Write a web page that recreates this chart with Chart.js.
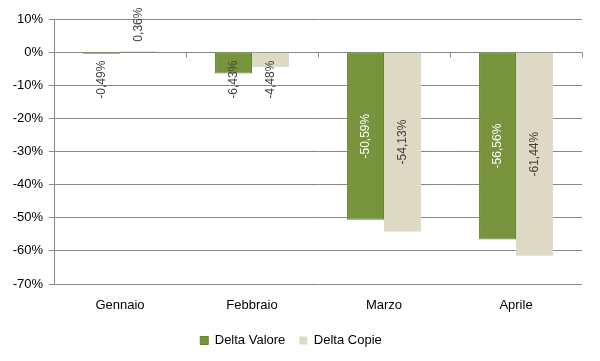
<!DOCTYPE html>
<html>
<head>
<meta charset="utf-8">
<script src="https://cdn.jsdelivr.net/npm/chart.js@4/dist/chart.umd.min.js"></script>
<style>
  html, body { margin: 0; padding: 0; background: #ffffff; }
  #wrap { width: 600px; height: 361px; position: relative; }
</style>
</head>
<body>
<div id="wrap"><canvas id="c" width="600" height="361"></canvas></div>
<script>
const categories = ["Gennaio", "Febbraio", "Marzo", "Aprile"];
const deltaValore = [-0.49, -6.43, -50.59, -56.56];
const deltaCopie = [0.36, -4.48, -54.13, -61.44];
const seriesNames = ["Delta Valore", "Delta Copie"];
const yMin = -70, yMax = 10, yStep = 10;

const fmt = v => v.toFixed(2).replace('.', ',') + '%';
const FONT = '"Liberation Sans", "DejaVu Sans", sans-serif';

const labelPlugin = {
  id: 'barLabels',
  afterDatasetsDraw(chart) {
    const ctx = chart.ctx;
    ctx.save();
    ctx.font = '12px ' + FONT;
    ctx.textBaseline = 'middle';
    chart.data.datasets.forEach((ds, di) => {
      const meta = chart.getDatasetMeta(di);
      meta.data.forEach((el, i) => {
        const v = ds.data[i];
        const txt = fmt(v);
        const w = ctx.measureText(txt).width;
        const len = Math.abs(el.base - el.y);
        ctx.save();
        ctx.translate(el.x, 0);
        if (len > w + 8) {
          ctx.translate(0, (el.y + el.base) / 2);
          ctx.rotate(-Math.PI / 2);
          ctx.textAlign = 'center';
          ctx.fillStyle = di === 0 ? '#ffffff' : '#404040';
          ctx.fillText(txt, 0, 0);
        } else if (v < 0) {
          ctx.translate(0, el.base + 8);
          ctx.rotate(-Math.PI / 2);
          ctx.textAlign = 'right';
          ctx.fillStyle = '#404040';
          ctx.fillText(txt, 0, 0);
        } else {
          ctx.translate(0, el.base - 10);
          ctx.rotate(-Math.PI / 2);
          ctx.textAlign = 'left';
          ctx.fillStyle = '#404040';
          ctx.fillText(txt, 0, 0);
        }
        ctx.restore();
      });
    });
    const xs = chart.scales.x, ys = chart.scales.y;
    const y0 = Math.round(ys.getPixelForValue(0)) + 0.5;
    ctx.strokeStyle = '#868686';
    ctx.lineWidth = 1;
    const n = categories.length;
    for (let i = 1; i <= n; i++) {
      const x = Math.round(xs.left + i * (xs.width / n)) + 0.5;
      ctx.beginPath();
      ctx.moveTo(x, y0);
      ctx.lineTo(x, y0 + 5);
      ctx.stroke();
    }
    ctx.restore();
  }
};

new Chart(document.getElementById('c'), {
  type: 'bar',
  data: {
    labels: categories,
    datasets: [
      { label: seriesNames[0], data: deltaValore, backgroundColor: '#77933C', borderColor: '#5F8A1E', borderWidth: 1, borderSkipped: false },
      { label: seriesNames[1], data: deltaCopie, backgroundColor: '#DDD9C4', borderWidth: 0 }
    ]
  },
  options: {
    responsive: false,
    animation: false,
    devicePixelRatio: 1,
    layout: { padding: { top: 19, right: 18, left: 0, bottom: 4 } },
    datasets: { bar: { categoryPercentage: 0.56, barPercentage: 1 } },
    plugins: {
      legend: {
        position: 'bottom',
        labels: {
          boxWidth: 8, boxHeight: 8, padding: 14,
          color: '#000000',
          font: { family: FONT, size: 13 }
        }
      },
      tooltip: { enabled: false }
    },
    scales: {
      x: {
        grid: { display: false },
        border: { display: false },
        ticks: { color: '#000000', padding: 6, font: { family: FONT, size: 13 } },
        afterFit(s) { s.height = 36; }
      },
      y: {
        min: yMin, max: yMax,
        ticks: {
          stepSize: yStep,
          color: '#000000',
          padding: 6,
          font: { family: FONT, size: 13 },
          callback: v => v + '%'
        },
        grid: { color: '#868686', lineWidth: 1, tickLength: 5, drawTicks: true },
        border: { display: true, color: '#868686', width: 1 },
        afterFit(s) { s.width = 54; }
      }
    }
  },
  plugins: [labelPlugin]
});
</script>
</body>
</html>
